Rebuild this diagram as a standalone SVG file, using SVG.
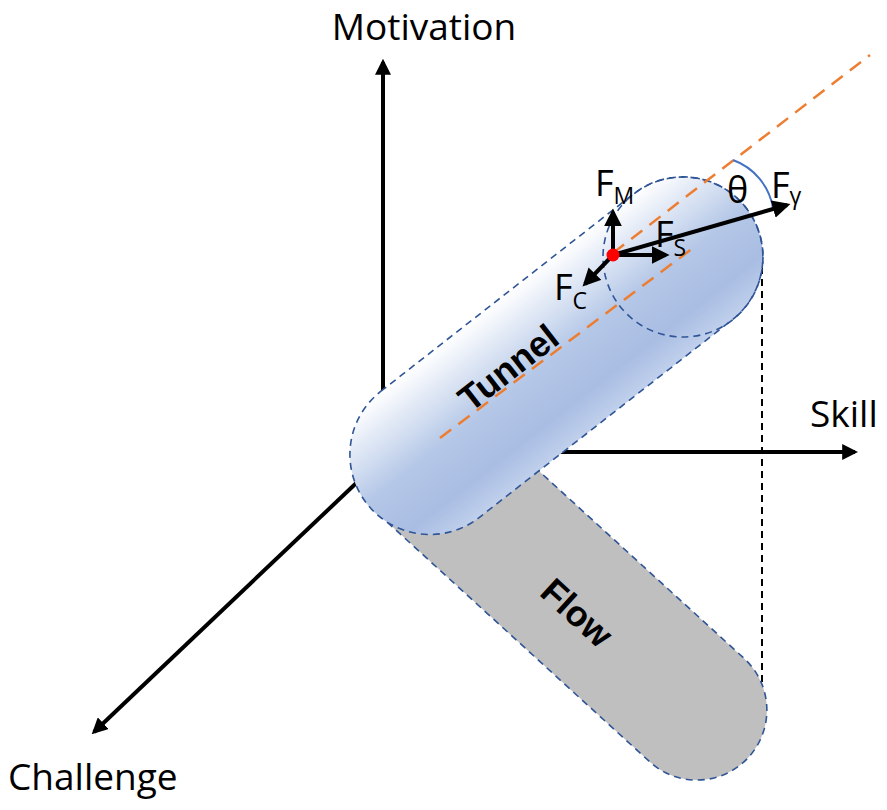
<svg xmlns="http://www.w3.org/2000/svg" width="887" height="810" viewBox="0 0 887 810">
<style>
.ax{stroke:#000;stroke-width:4;fill:none}
.lbl{font-family:"Open Sans","Noto Sans",sans-serif;font-size:37px;fill:#000}
.bl{font-family:"Liberation Sans",Arial,sans-serif;font-size:36px;font-weight:bold;fill:#000}
.f{font-family:"Open Sans","Noto Sans",sans-serif;font-size:36px;fill:#000}
.sub{font-size:23px}
.cap{stroke:#2f5597;stroke-width:1.6;stroke-dasharray:7 5}
.or{stroke:#ed7d31;stroke-width:2.5;stroke-dasharray:14 9;fill:none}
.fa{stroke:#000;stroke-width:4;fill:none}
</style>
<defs>
<marker id="ah" viewBox="0 0 10 10" refX="8" refY="5" markerWidth="4" markerHeight="4" orient="auto" markerUnits="strokeWidth"><path d="M0,0 L10,5 L0,10 z" fill="#000"/></marker>
<marker id="fh" viewBox="0 0 10 10" refX="8" refY="5" markerWidth="4.5" markerHeight="4.5" orient="auto" markerUnits="strokeWidth"><path d="M0,0 L10,5 L0,10 z" fill="#000"/></marker>
<linearGradient id="tg" x1="0" y1="0" x2="0" y2="1">
<stop offset="0" stop-color="#ffffff"/><stop offset="0.5" stop-color="#b4c7e7"/><stop offset="0.8" stop-color="#a9bde3"/><stop offset="1" stop-color="#c0d0ec"/>
</linearGradient>
</defs>
<g id="connectors">
<line class="ax" x1="383" y1="460" x2="383" y2="62" marker-end="url(#ah)"/>
<line class="ax" x1="383" y1="452" x2="855" y2="452" marker-end="url(#ah)"/>
<line class="ax" x1="370" y1="470" x2="94" y2="732" marker-end="url(#ah)"/>
<line x1="762" y1="255" x2="762" y2="700" stroke="#000" stroke-width="2" stroke-dasharray="7 5"/>
</g>
<g id="flow">
<rect x="307" y="516" width="508" height="140" rx="70" fill="#bfbfbf" class="cap" transform="rotate(42.4 561 586)"/>
<text x="575" y="615" class="bl" text-anchor="middle" dominant-baseline="middle" transform="rotate(42.4 575 615)">Flow</text>
</g>
<g id="tunnel">
<rect x="316" y="276" width="481" height="160" rx="80" fill="url(#tg)" class="cap" transform="rotate(-38 556 356)"/>
<circle cx="683" cy="257" r="80" fill="none" class="cap"/>
<line class="or" x1="440" y1="438" x2="697" y2="245"/>
<line class="or" x1="613" y1="253" x2="870" y2="55"/>
<text x="510" y="370" class="bl" text-anchor="middle" dominant-baseline="middle" transform="rotate(-38 510 370)">Tunnel</text>
</g>
<g id="forces">
<path d="M733,160 A62,62 0 0 1 773,208" fill="none" stroke="#4472c4" stroke-width="2"/>
<line class="fa" x1="613" y1="255" x2="613" y2="212" marker-end="url(#fh)"/>
<line class="fa" x1="613" y1="255" x2="666" y2="255" marker-end="url(#fh)"/>
<line class="fa" x1="613" y1="255" x2="585" y2="284" marker-end="url(#fh)"/>
<line class="fa" x1="613" y1="255" x2="787" y2="205" marker-end="url(#fh)"/>
<circle cx="613" cy="255" r="6.5" fill="#ff0000"/>
<text x="595" y="196" class="f">F<tspan class="sub" dy="8">M</tspan></text>
<text x="655" y="247" class="f">F<tspan class="sub" dy="9">S</tspan></text>
<text x="554" y="300" class="f">F<tspan class="sub" dy="9">C</tspan></text>
<text x="771" y="198" class="f">F<tspan class="sub" dy="6">γ</tspan></text>
<text x="727" y="203" class="f">θ</text>
</g>
<g id="labels">
<text x="424" y="40" class="lbl" text-anchor="middle">Motivation</text>
<text x="810" y="427" class="lbl">Skill</text>
<text x="8" y="790" class="lbl">Challenge</text>
</g>
</svg>
